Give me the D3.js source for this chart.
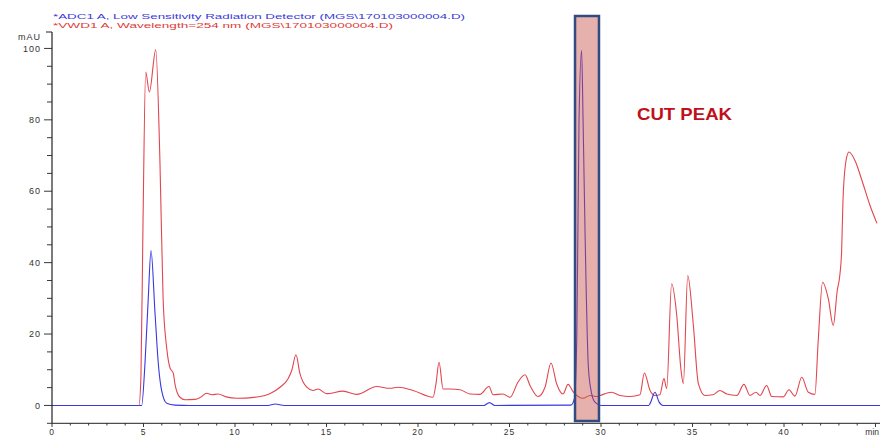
<!DOCTYPE html>
<html><head><meta charset="utf-8">
<script src="https://cdn.jsdelivr.net/npm/d3@7"></script>
<style>body{margin:0;background:#fff}svg{display:block}</style>
</head><body>
<script>
// ---- data ----
const legendLabels = [
  "*ADC1 A, Low Sensitivity Radiation Detector (MGS\\170103000004.D)",
  "*VWD1 A, Wavelength=254 nm (MGS\\170103000004.D)"
];
const yTickValues = [0, 20, 40, 60, 80, 100];
const xTickValues = [0, 5, 10, 15, 20, 25, 30, 35, 40];
const xUnitLabel = "min";
const yUnitLabel = "mAU";
const cutWindow = [28.58, 29.89];
const cutLabel = "CUT PEAK";

// VWD1 (254 nm, red): time (min), absorbance (mAU)
const redTime = [0,4.75,4.86,4.97,5.12,5.32,5.67,5.9,6.07,6.27,6.45,6.63,6.72,6.99,7.27,7.81,8.09,8.45,8.74,9.07,9.51,10.09,11.37,11.9,12.46,12.9,13.1,13.33,13.55,13.92,14.26,14.54,15.01,15.9,16.65,17.74,18.47,18.91,19.73,20.82,20.98,21.15,21.37,21.75,22.3,22.84,23.39,23.88,24.1,24.64,25.03,25.46,25.85,26.12,26.56,26.94,27.27,27.58,27.92,28.2,28.47,29.02,29.4,29.78,29.95,30.58,31.04,31.58,32.13,32.37,32.68,32.95,33.22,33.44,33.59,33.86,34.13,34.37,34.5,34.74,35.04,35.32,35.68,36.12,36.5,36.87,37.42,37.81,38.14,38.47,38.69,39.05,39.33,39.96,40.27,40.6,40.97,41.33,41.69,41.87,42.11,42.42,42.69,42.91,43.06,43.15,43.22,43.39,43.55,43.88,44.26,44.7,45.08];
const redValue = [0,0,8,50,93.4,87.8,99.6,68,30,16,10.5,9,6,2.3,1.6,1.7,2.2,3.4,3,3.2,2.4,2,2.5,3.3,5.1,7.5,9.8,14.2,8.9,5.1,4.2,4.6,3.3,4,3.1,5.3,4.8,5.1,4.2,2.3,6,12.1,4.6,4.6,4.4,3.2,3.1,5.3,3,3.2,2.3,6.5,8.6,5.6,2.5,5.1,11.9,6,3.2,5.9,3.9,2,2.8,2.5,2.8,3.7,2.8,2.5,3,9.1,4.2,2.8,3,7.5,4.7,34.1,25.7,10,6.1,36.4,22.9,6.1,2.8,3,4.2,3.2,2.8,5.9,2.8,3.7,2.8,5.6,2.5,2.4,4.4,2.6,7.9,3.7,3.1,18.2,34.5,29.9,22.4,32.2,36.9,43.4,57,68.6,71,68.6,63,56,51];

// ADC1 (radiation, blue)
const blueTime = [0,4.9,5.08,5.26,5.41,5.63,5.81,5.99,6.27,6.72,7.5,11.8,12.2,12.7,23.6,23.9,24.2,28.35,28.55,28.68,28.8,28.94,29.02,29.13,29.31,29.49,29.67,30.0,32.6,32.68,32.95,33.17,33.39,45.3];
const blueValue = [0,0,11.7,30,43.4,25.8,11.7,4.2,0.6,0.1,0,0,0.4,0,0,0.8,0,0.1,2,20,80,99.4,80,48,10.7,3.3,0.9,0,0,0.5,3.7,1,0,0];

// ---- chart ----
const W = 880, H = 435;
const svg = d3.select("body").append("svg").attr("width", W).attr("height", H);
const x = d3.scaleLinear().domain([0, 45]).range([52, 875.5]);
const y = d3.scaleLinear().domain([-5, 104.6]).range([423.3, 32]);

const tickFont = "Arial, 'Liberation Sans', sans-serif";
const axisColor = "#222";

// lines
const line = d3.line().x(d => x(d[0])).y(d => y(d[1])).curve(d3.curveMonotoneX);
const redData = redTime.map((t, i) => [t, redValue[i]]);
const blueData = blueTime.map((t, i) => [t, blueValue[i]]);

const plot = svg.append("g");
plot.append("path").datum(redData).attr("d", line)
  .attr("fill", "none").attr("stroke", "#e2464e").attr("stroke-width", 1.1);
plot.append("path").datum(blueData).attr("d", line)
  .attr("fill", "none").attr("stroke", "#3838e0").attr("stroke-width", 1.1);

// cut window
svg.append("rect")
  .attr("x", x(cutWindow[0])).attr("y", 16)
  .attr("width", x(cutWindow[1]) - x(cutWindow[0])).attr("height", 405)
  .attr("fill", "#c8504a").attr("fill-opacity", 0.45)
  .attr("stroke", "#2f4b80").attr("stroke-width", 2.5);

svg.append("text").attr("x", 637).attr("y", 120)
  .attr("font-family", "'Liberation Sans', Arial, sans-serif").attr("font-weight", "bold")
  .attr("font-size", 17).attr("fill", "#c0101a")
  .attr("textLength", 95).attr("lengthAdjust", "spacingAndGlyphs")
  .text(cutLabel);

// y axis
const yAxisG = svg.append("g");
yAxisG.append("line").attr("x1", 52).attr("x2", 52).attr("y1", 32).attr("y2", 423.3)
  .attr("stroke", axisColor).attr("stroke-width", 1.2);
yAxisG.append("line").attr("x1", 46).attr("x2", 52).attr("y1", 32).attr("y2", 32)
  .attr("stroke", axisColor);
const yMinor = d3.range(-5, 101, 5);
yAxisG.selectAll("line.minor").data(yMinor).enter().append("line")
  .attr("x1", d => yTickValues.includes(d) ? 44 : 47).attr("x2", 52)
  .attr("y1", d => y(d)).attr("y2", d => y(d))
  .attr("stroke", axisColor).attr("stroke-width", 0.9);
yAxisG.selectAll("text.yl").data(yTickValues).enter().append("text")
  .attr("x", 41).attr("y", d => y(d) + 3.2)
  .attr("text-anchor", "end").attr("font-family", tickFont).attr("font-size", 9)
  .attr("letter-spacing", 1).attr("fill", "#333").text(d => d);
yAxisG.append("text").attr("x", 41).attr("y", 40)
  .attr("text-anchor", "end").attr("font-family", tickFont).attr("font-size", 9)
  .attr("letter-spacing", 1).attr("fill", "#333").text(yUnitLabel);

// x axis
const xAxisG = svg.append("g");
xAxisG.append("line").attr("x1", 52).attr("x2", 880).attr("y1", 423.3).attr("y2", 423.3)
  .attr("stroke", axisColor).attr("stroke-width", 1);
xAxisG.selectAll("line.xt").data(d3.range(0, 46, 1)).enter().append("line")
  .attr("x1", d => x(d)).attr("x2", d => x(d))
  .attr("y1", 423.3).attr("y2", d => d % 5 === 0 ? 427 : 425.5)
  .attr("stroke", axisColor).attr("stroke-width", 0.9);
xAxisG.selectAll("text.xl").data(xTickValues).enter().append("text")
  .attr("x", d => x(d)).attr("y", 434.5)
  .attr("text-anchor", "middle").attr("font-family", tickFont).attr("font-size", 8.5)
  .attr("letter-spacing", 1).attr("fill", "#333").text(d => d);
xAxisG.append("text").attr("x", 879).attr("y", 434.5)
  .attr("text-anchor", "end").attr("font-family", tickFont).attr("font-size", 8.5)
  .attr("fill", "#333").text(xUnitLabel);

// legend
const legendColors = ["#3a3ad8", "#e03a3a"];
const legendWidths = [412, 340];
svg.selectAll("text.leg").data(legendLabels).enter().append("text")
  .attr("x", 53).attr("y", (d, i) => 19 + i * 8.5)
  .attr("font-family", tickFont).attr("font-size", 7.6)
  .attr("fill", (d, i) => legendColors[i])
  .attr("textLength", (d, i) => legendWidths[i]).attr("lengthAdjust", "spacingAndGlyphs")
  .text(d => d);
</script>
</body></html>
